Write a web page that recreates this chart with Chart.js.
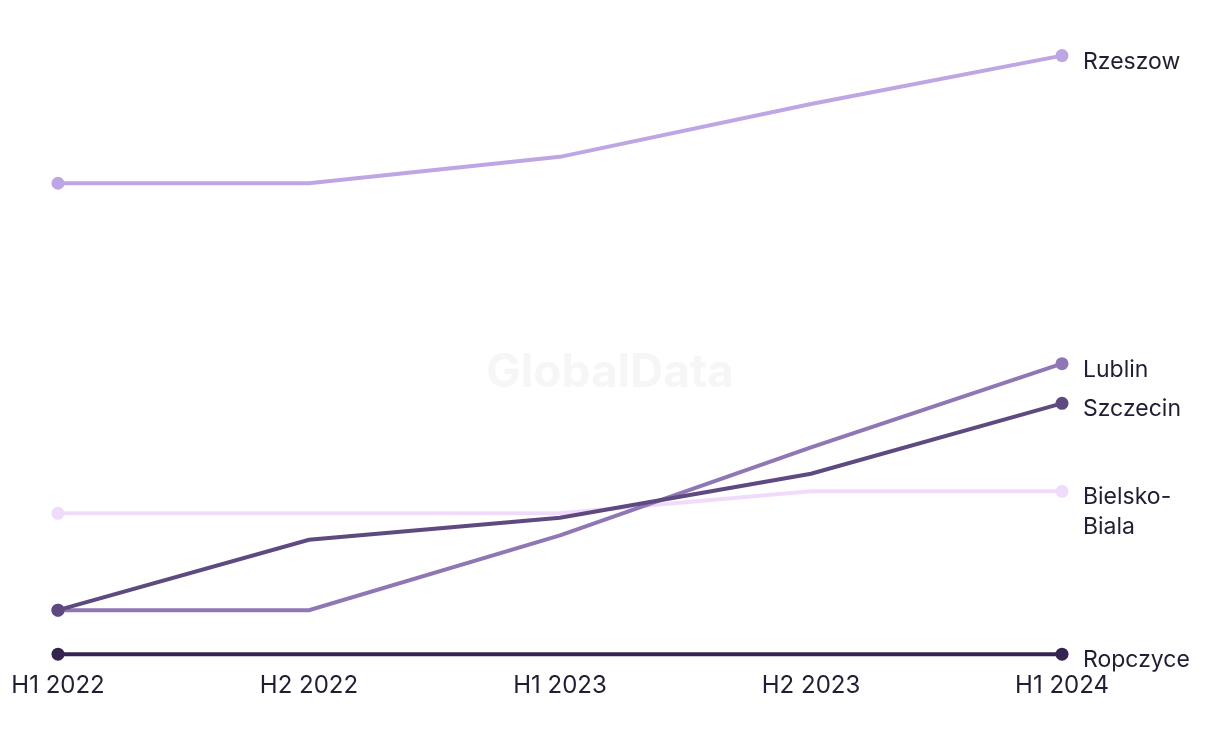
<!DOCTYPE html>
<html>
<head>
<meta charset="utf-8">
<script src="https://cdn.jsdelivr.net/npm/chart.js@4"></script>
<style>
  html, body { margin: 0; padding: 0; background: #ffffff; }
  #wrap { width: 1220px; height: 744px; }
</style>
</head>
<body>
<div id="wrap"><canvas id="city-chart"></canvas></div>
<script>
const periods = ['H1 2022', 'H2 2022', 'H1 2023', 'H2 2023', 'H1 2024'];

const rzeszow = [107, 107, 113, 125, 136];
const szczecin = [10, 26, 31, 41, 57];
const lublin = [10, 10, 27, 47, 66];
const bielskoBiala = [32, 32, 32, 37, 37];
const ropczyce = [0, 0, 0, 0, 0];

const FONT = 'Inter, "Noto Sans", sans-serif';
const TEXT_COLOR = '#1f1e33';

// only first and last point get a dot
const endDots = (ctx) => {
  const last = ctx.dataset.data.length - 1;
  return ctx.dataIndex === 0 || ctx.dataIndex === last ? 6.5 : 0;
};

function makeLine(label, data, color) {
  return {
    label: label,
    data: data,
    borderColor: color,
    backgroundColor: color,
    pointBackgroundColor: color,
    pointBorderWidth: 0,
    borderWidth: 4,
    pointRadius: endDots,
    pointHoverRadius: endDots,
    tension: 0,
    clip: false,
  };
}

const watermark = {
  id: 'watermark',
  beforeDatasetsDraw(chart) {
    const c = chart.ctx;
    c.save();
    c.font = 'bold 46px ' + FONT;
    c.fillStyle = '#f6f6f6';
    c.textAlign = 'center';
    c.textBaseline = 'middle';
    c.fillText('GlobalData', 610, 373);
    c.restore();
  },
};

const endLabels = {
  id: 'endLabels',
  afterDatasetsDraw(chart) {
    const c = chart.ctx;
    c.save();
    c.font = '23px ' + FONT;
    c.fillStyle = TEXT_COLOR;
    c.textAlign = 'left';
    c.textBaseline = 'middle';
    chart.data.datasets.forEach((ds, i) => {
      const pts = chart.getDatasetMeta(i).data;
      const p = pts[pts.length - 1];
      const lines = ds.label.split('\n');
      lines.forEach((txt, j) => {
        c.fillText(txt, p.x + 21, p.y + 6 + j * 30);
      });
    });
    c.restore();
  },
};

new Chart(document.getElementById('city-chart'), {
  type: 'line',
  data: {
    labels: periods,
    datasets: [
      makeLine('Rzeszow', rzeszow, '#bea5e4'),
      makeLine('Szczecin', szczecin, '#5e4a80'),
      makeLine('Lublin', lublin, '#8f77b5'),
      makeLine('Bielsko-\nBiala', bielskoBiala, '#f1dbfb'),
      makeLine('Ropczyce', ropczyce, '#35244f'),
    ],
  },
  options: {
    responsive: true,
    maintainAspectRatio: false,
    animation: false,
    layout: {
      padding: { left: 58, right: 158, top: 16, bottom: 27 },
    },
    plugins: {
      legend: { display: false },
      tooltip: { enabled: false },
    },
    scales: {
      x: {
        offset: false,
        grid: { display: false, drawTicks: false },
        border: { display: false },
        afterFit(scale) {
          // let layout padding alone decide the plot edges
          scale.paddingLeft = 0;
          scale.paddingRight = 0;
        },
        ticks: {
          padding: 17,
          color: TEXT_COLOR,
          font: { family: FONT, size: 24 },
          maxRotation: 0,
          autoSkip: false,
        },
      },
      y: {
        display: false,
        min: 0,
        max: 145,
      },
    },
  },
  plugins: [watermark, endLabels],
});
</script>
</body>
</html>
